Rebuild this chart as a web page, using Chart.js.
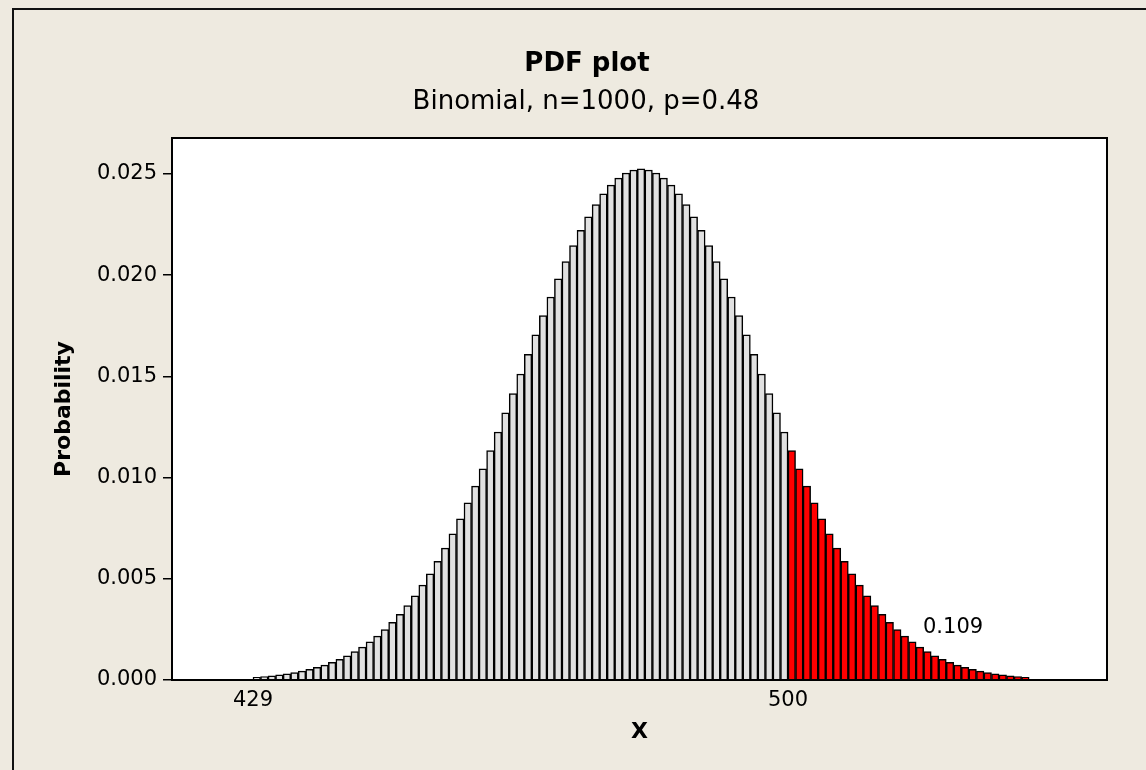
<!DOCTYPE html>
<html>
<head>
<meta charset="utf-8">
<script src="https://cdn.jsdelivr.net/npm/chart.js@4.4.1/dist/chart.umd.min.js"></script>
<style>
  html, body { margin: 0; padding: 0; background: #eeeae0; }
  #wrap { width: 1146px; height: 770px; }
</style>
</head>
<body>
<div id="wrap"><canvas id="pdfChart" width="1146" height="770"></canvas></div>
<script>
const titleText = 'PDF plot';
const subtitleText = 'Binomial, n=1000, p=0.48';

// first x value of the bars, one bar per integer x
const firstX = 429;
const probabilities = [
  0.000138, 0.000169, 0.000206, 0.000250, 0.000302, 0.000364, 0.000437, 0.000522, 0.000622, 0.000737,
  0.000871, 0.001024, 0.001200, 0.001400, 0.001627, 0.001883, 0.002171, 0.002493, 0.002851, 0.003247,
  0.003683, 0.004162, 0.004684, 0.005251, 0.005863, 0.006519, 0.007220, 0.007965, 0.008751, 0.009577,
  0.010438, 0.011332, 0.012253, 0.013195, 0.014154, 0.015121, 0.016090, 0.017052, 0.018000, 0.018924,
  0.019817, 0.020668, 0.021470, 0.022214, 0.022891, 0.023495, 0.024019, 0.024455, 0.024801, 0.025050,
  0.025201, 0.025252, 0.025201, 0.025050, 0.024801, 0.024455, 0.024019, 0.023495, 0.022891, 0.022214,
  0.021470, 0.020668, 0.019817, 0.018924, 0.018000, 0.017052, 0.016090, 0.015121, 0.014154, 0.013195,
  0.012253, 0.011332, 0.010438, 0.009577, 0.008751, 0.007965, 0.007220, 0.006519, 0.005863, 0.005251,
  0.004684, 0.004162, 0.003683, 0.003247, 0.002851, 0.002493, 0.002171, 0.001883, 0.001627, 0.001400,
  0.001200, 0.001024, 0.000871, 0.000737, 0.000622, 0.000522, 0.000437, 0.000364, 0.000302, 0.000250,
  0.000206, 0.000169, 0.000138
];

// bars at or above this x are shaded
const shadeFrom = 500;
const shadedArea = '0.109';
const shadedLabelAt = [521.9, 0.0026];

const xTicks = [429, 500];
const yTicks = [0, 0.005, 0.010, 0.015, 0.020, 0.025];

const bgColor = '#eeeae0';
const barGray = '#e1e1e1';
const barRed = '#ff0000';
const font = "'DejaVu Sans', sans-serif";

const barData = probabilities.map((p, i) => ({ x: firstX + i + 0.5, y: p }));
const barColors = probabilities.map((p, i) => (firstX + i >= shadeFrom ? barRed : barGray));

const pagePlugin = {
  id: 'page',
  beforeDraw(chart) {
    const { ctx, chartArea: a } = chart;
    ctx.save();
    ctx.fillStyle = bgColor;
    ctx.fillRect(0, 0, chart.width, chart.height);
    ctx.fillStyle = '#ffffff';
    ctx.fillRect(a.left, a.top, a.right - a.left, a.bottom - a.top);
    // outer frame, only left and top edges are in view
    ctx.fillStyle = '#111111';
    ctx.fillRect(12, 8, 2, chart.height - 8);
    ctx.fillRect(12, 8, chart.width - 12, 2);
    ctx.restore();
  },
  afterDraw(chart) {
    const { ctx, chartArea: a, scales } = chart;
    ctx.save();
    ctx.strokeStyle = '#000000';
    ctx.lineWidth = 2;
    ctx.strokeRect(a.left, a.top, a.right - a.left, a.bottom - a.top);

    ctx.fillStyle = '#000000';
    ctx.textAlign = 'center';
    ctx.textBaseline = 'middle';
    ctx.font = 'bold 26px ' + font;
    ctx.fillText(titleText, 587, 64);
    ctx.font = '26px ' + font;
    ctx.fillText(subtitleText, 586, 102);

    ctx.font = '21px ' + font;
    ctx.fillText(shadedArea,
      scales.x.getPixelForValue(shadedLabelAt[0]),
      scales.y.getPixelForValue(shadedLabelAt[1]));
    ctx.restore();
  }
};

new Chart(document.getElementById('pdfChart'), {
  type: 'bar',
  data: {
    datasets: [{
      data: barData,
      backgroundColor: barColors,
      borderColor: '#000000',
      borderWidth: 1.5,
      barPercentage: 1,
      categoryPercentage: 1
    }]
  },
  options: {
    responsive: false,
    devicePixelRatio: 1,
    animation: false,
    layout: { padding: { top: 138, right: 39, left: 0, bottom: 0 } },
    plugins: {
      legend: { display: false },
      tooltip: { enabled: false }
    },
    scales: {
      x: {
        type: 'linear',
        min: 418.25,
        max: 542.33,
        offset: false,
        grid: { display: false, drawTicks: false, offset: false },
        border: { display: false },
        afterBuildTicks: (axis) => { axis.ticks = xTicks.map(v => ({ value: v })); },
        afterFit: (axis) => { axis.height = 90; },
        ticks: {
          autoSkip: false,
          maxRotation: 0,
          padding: 8,
          color: '#000000',
          font: { family: font, size: 21 },
          callback: (v) => String(v)
        },
        title: {
          display: true,
          text: 'X',
          color: '#000000',
          font: { family: font, size: 22, weight: 'bold' },
          padding: { top: 0, bottom: 25 }
        }
      },
      y: {
        min: 0,
        max: 0.02678,
        grid: {
          display: true,
          drawOnChartArea: false,
          drawTicks: true,
          tickLength: 9,
          color: '#000000',
          lineWidth: 1.5
        },
        border: { display: false },
        afterBuildTicks: (axis) => { axis.ticks = yTicks.map(v => ({ value: v })); },
        afterFit: (axis) => { axis.width = 172; },
        ticks: {
          padding: 6,
          color: '#000000',
          font: { family: font, size: 21 },
          callback: (v) => v.toFixed(3)
        },
        title: {
          display: true,
          text: 'Probability',
          color: '#000000',
          font: { family: font, size: 22, weight: 'bold' },
          padding: { top: 51, bottom: 0 }
        }
      }
    }
  },
  plugins: [pagePlugin]
});
</script>
</body>
</html>
